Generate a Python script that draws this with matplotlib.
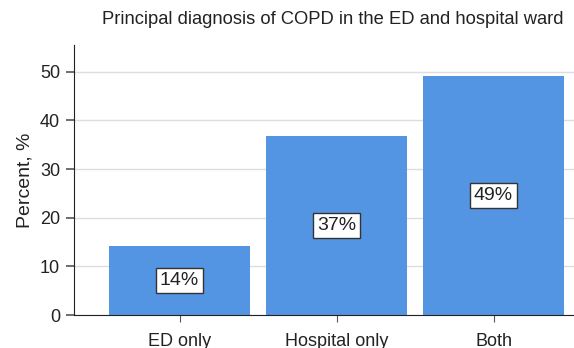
import matplotlib
matplotlib.use("Agg")
import matplotlib.pyplot as plt

categories = ["ED only", "Hospital only", "Both"]
percents = [14.2, 36.8, 49.2]
labels = ["14%", "37%", "49%"]

plt.rcParams['font.family'] = ['Liberation Sans', 'DejaVu Sans']

fig = plt.figure(figsize=(5.74, 3.48), dpi=100)
ax = fig.add_axes([74 / 574, 1 - 315 / 348, 520 / 574, 270 / 348])

x = range(len(categories))
bars = ax.bar(x, percents, width=0.898, color="#5495e3", zorder=2)

for b, lab in zip(bars, labels):
    ax.text(b.get_x() + b.get_width() / 2, b.get_height() / 2, lab,
            ha="center", va="center", fontsize=14, color="#222222", zorder=3,
            bbox=dict(boxstyle="square,pad=0.2", fc="white", ec="#333333", lw=1))

ax.set_xlim(-0.672, 2.64)
ax.set_ylim(0, 55.5)
ax.set_yticks([0, 10, 20, 30, 40, 50])
ax.set_xticks(list(x))
ax.set_xticklabels(categories, fontsize=13, color="#222222")
ax.tick_params(axis="y", labelsize=13, labelcolor="#222222", length=6, width=1.2,
               color="#555555", pad=4)
ax.tick_params(axis="x", length=5, color="#555555", pad=8)
ax.yaxis.grid(True, color="#dddddd", lw=1, zorder=0)
ax.set_axisbelow(True)
for s in ["top", "right"]:
    ax.spines[s].set_visible(False)
ax.spines["left"].set_color("#222222")
ax.spines["bottom"].set_color("#222222")
ax.set_ylabel("Percent, %", fontsize=14, color="#222222", labelpad=5)

fig.text(333 / 574, 1 - 20 / 348, "Principal diagnosis of COPD in the ED and hospital ward",
         ha="center", va="center", fontsize=13.2, color="#222222")

fig.savefig("out.png", dpi=100)
